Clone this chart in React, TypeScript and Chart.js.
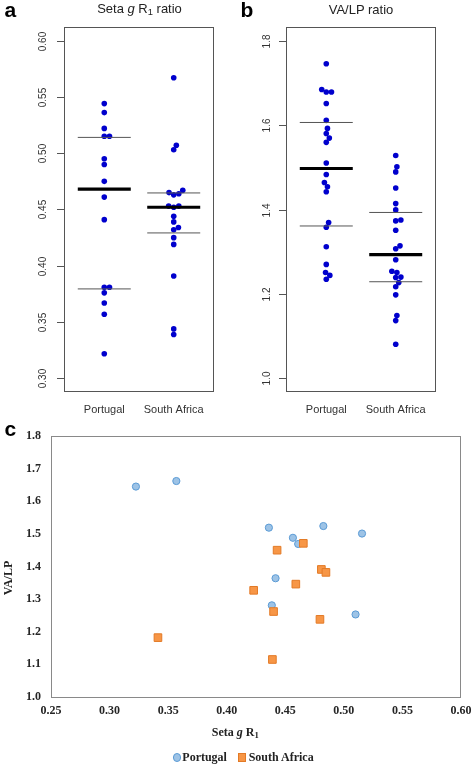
import React, { useEffect, useRef } from 'react';
import { Chart, registerables } from 'chart.js';

Chart.register(...registerables);

// ---------- data ----------
const groups = ['Portugal', 'South Africa'];
const groupLimits = [0.5, 2.5];

// panel a: Seta g R1 ratio
const setaPortugal = [0.544, 0.536, 0.522, 0.515, 0.515, 0.495, 0.49, 0.475, 0.461, 0.441, 0.381, 0.381, 0.376, 0.367, 0.357, 0.322];
const setaSouthAfrica = [0.567, 0.507, 0.503, 0.467, 0.465, 0.464, 0.463, 0.453, 0.453, 0.452, 0.444, 0.439, 0.434, 0.432, 0.425, 0.419, 0.391, 0.344, 0.339];
const setaMedian = [0.468, 0.452];
const setaUpperQ = [0.514, 0.4647];
const setaLowerQ = [0.3795, 0.4292];
const setaLimits = [0.3, 0.6];
const setaTicks = [0.3, 0.35, 0.4, 0.45, 0.5, 0.55, 0.6];

// panel b: VA/LP ratio
const vaPortugal = [1.745, 1.684, 1.678, 1.678, 1.651, 1.611, 1.592, 1.58, 1.569, 1.559, 1.51, 1.483, 1.464, 1.454, 1.442, 1.369, 1.358, 1.312, 1.27, 1.251, 1.244, 1.235];
const vaSouthAfrica = [1.528, 1.501, 1.489, 1.451, 1.414, 1.399, 1.375, 1.373, 1.351, 1.314, 1.307, 1.281, 1.254, 1.251, 1.24, 1.239, 1.227, 1.217, 1.198, 1.149, 1.137, 1.081];
const vaMedian = [1.497, 1.293];
const vaUpperQ = [1.606, 1.393];
const vaLowerQ = [1.361, 1.229];
const vaLimits = [1.0, 1.8];
const vaTicks = [1.0, 1.2, 1.4, 1.6, 1.8];

// panel c: scatter
const scatterPortugalX = [0.3225, 0.357, 0.436, 0.4825, 0.5155, 0.4565, 0.461, 0.4417, 0.4385, 0.51];
const scatterPortugalY = [1.645, 1.662, 1.519, 1.524, 1.501, 1.488, 1.469, 1.364, 1.281, 1.253];
const scatterSouthAfricaX = [0.4654, 0.443, 0.4808, 0.4847, 0.459, 0.423, 0.44, 0.4796, 0.3413, 0.439];
const scatterSouthAfricaY = [1.471, 1.45, 1.391, 1.382, 1.346, 1.327, 1.262, 1.238, 1.182, 1.115];
const scatterXTicks = [0.25, 0.3, 0.35, 0.4, 0.45, 0.5, 0.55, 0.6];
const scatterYTicks = [1.0, 1.1, 1.2, 1.3, 1.4, 1.5, 1.6, 1.7, 1.8];

// ---------- styling ----------
const FONT_SANS = "'Liberation Sans', Arial, Helvetica, sans-serif";
const FONT_SERIF = "'Liberation Serif', 'Times New Roman', Times, serif";
const DOT_COLOR = '#0000CD';
const PT_FILL = '#9DC3E6';
const PT_BORDER = '#5B9BD5';
const SA_FILL = '#F79646';
const SA_BORDER = '#E37A26';

function expand(r: number[], f = 0.04) {
  const d = (r[1] - r[0]) * f;
  return [r[0] - d, r[1] + d];
}

// simple beeswarm layout (pixel space), returns x offsets in data units
function swarmOffsets(values: number[], pxPerY: number, pxPerX: number, spacing: number): number[] {
  const order = values.map((_, i) => i).sort((a, b) => values[a] - values[b]);
  const placed: { x: number; y: number }[] = [];
  const res = new Array(values.length).fill(0);
  const d2 = spacing * spacing;
  for (const i of order) {
    const y = values[i] * pxPerY;
    const cands = [0];
    for (const p of placed) {
      const dy = Math.abs(p.y - y);
      if (dy < spacing) {
        const dx = Math.sqrt(d2 - dy * dy) + 0.01;
        cands.push(p.x + dx, p.x - dx);
      }
    }
    cands.sort((a, b) => Math.abs(a) - Math.abs(b) || b - a);
    let chosen = 0;
    for (const c of cands) {
      if (placed.every((p) => (p.x - c) ** 2 + (p.y - y) ** 2 >= d2 - 0.05)) {
        chosen = c;
        break;
      }
    }
    placed.push({ x: chosen, y });
    res[i] = chosen / pxPerX;
  }
  return res;
}

type Area = { left: number; top: number; right: number; bottom: number };
type DotCfg = {
  series: number[][];
  median: number[];
  upper: number[];
  lower: number[];
  limits: number[];
  ticks: number[];
  decimals: number;
  width: number;
  height: number;
  area: Area;
  labelOffset: number;
};

function zeroPad(s: any) {
  s.paddingLeft = 0;
  s.paddingRight = 0;
  s.paddingTop = 0;
  s.paddingBottom = 0;
}

function makeDotChart(canvas: HTMLCanvasElement, cfg: DotCfg) {
  const [xMin, xMax] = expand(groupLimits);
  const [yMin, yMax] = expand(cfg.limits);
  const a = cfg.area;
  const pxX = (a.right - a.left) / (xMax - xMin);
  const pxY = (a.bottom - a.top) / (yMax - yMin);
  const points = cfg.series.flatMap((vals, g) => {
    const off = swarmOffsets(vals, pxY, pxX, 5.2);
    return vals.map((v, i) => ({ x: g + 1 + off[i], y: v }));
  });
  const hw = 26.5 / pxX;
  const seg = (vals: number[], width: number, color: string) =>
    groups.map((_, g) => ({
      type: 'line' as const,
      data: [
        { x: g + 1 - hw, y: vals[g] },
        { x: g + 1 + hw, y: vals[g] },
      ],
      borderColor: color,
      borderWidth: width,
      pointRadius: 0,
      showLine: true,
      fill: false,
    }));

  const framePlugin = {
    id: 'frame',
    afterDraw(chart: any) {
      const { ctx, chartArea: ca, scales } = chart;
      ctx.save();
      ctx.strokeStyle = '#555';
      ctx.lineWidth = 1;
      ctx.strokeRect(ca.left + 0.5, ca.top + 0.5, ca.right - ca.left - 1, ca.bottom - ca.top - 1);
      ctx.fillStyle = '#333';
      ctx.font = `10px ${FONT_SANS}`;
      ctx.textAlign = 'center';
      ctx.textBaseline = 'middle';
      for (const t of cfg.ticks) {
        const y = Math.round(scales.y.getPixelForValue(t)) + 0.5;
        ctx.beginPath();
        ctx.moveTo(ca.left - 7, y);
        ctx.lineTo(ca.left, y);
        ctx.stroke();
        ctx.save();
        ctx.translate(ca.left - cfg.labelOffset, y);
        ctx.rotate(-Math.PI / 2);
        ctx.fillText(t.toFixed(cfg.decimals), 0, 0);
        ctx.restore();
      }
      ctx.restore();
    },
  };

  return new Chart(canvas, {
    type: 'scatter',
    data: {
      datasets: [
        ...seg(cfg.median, 3.2, '#000'),
        ...seg(cfg.upper, 1, '#555'),
        ...seg(cfg.lower, 1, '#555'),
        {
          type: 'scatter' as const,
          data: points,
          pointRadius: 2.8,
          pointBackgroundColor: DOT_COLOR,
          pointBorderWidth: 0,
          backgroundColor: DOT_COLOR,
        },
      ] as any,
    },
    options: {
      animation: false,
      responsive: false,
      events: [],
      layout: { padding: { top: a.top, left: 0, right: cfg.width - a.right, bottom: 0 } },
      plugins: { legend: { display: false }, tooltip: { enabled: false } },
      scales: {
        x: {
          type: 'linear',
          min: xMin,
          max: xMax,
          grid: { display: false, drawTicks: false },
          border: { display: false },
          afterBuildTicks: (s: any) => {
            s.ticks = groups.map((_, g) => ({ value: g + 1 }));
          },
          afterFit: (s: any) => {
            s.height = cfg.height - a.bottom;
            zeroPad(s);
          },
          ticks: {
            autoSkip: false,
            maxRotation: 0,
            padding: 11,
            color: '#333',
            font: { family: FONT_SANS, size: 11 },
            callback: (v: any) => groups[Math.round(Number(v)) - 1] ?? '',
          },
        },
        y: {
          type: 'linear',
          min: yMin,
          max: yMax,
          grid: { display: false, drawTicks: false },
          border: { display: false },
          ticks: { display: false },
          afterFit: (s: any) => {
            s.width = a.left;
            zeroPad(s);
          },
        },
      },
    } as any,
    plugins: [framePlugin],
  });
}

function makeScatterChart(canvas: HTMLCanvasElement) {
  const W = 472;
  const H = 346;
  const area = { left: 51, top: 16, right: 461, bottom: 277 };
  const xAxisH = 30;
  const framePlugin = {
    id: 'frameC',
    afterDraw(chart: any) {
      const { ctx, chartArea: ca } = chart;
      ctx.save();
      ctx.strokeStyle = '#898989';
      ctx.lineWidth = 1;
      ctx.strokeRect(Math.round(ca.left) + 0.5, Math.round(ca.top) + 0.5, Math.round(ca.right - ca.left) - 1, Math.round(ca.bottom - ca.top));
      ctx.restore();
    },
  };
  const tickFont = { family: FONT_SERIF, size: 12, weight: 'bold' as const };
  return new Chart(canvas, {
    type: 'scatter',
    data: {
      datasets: [
        {
          label: groups[0],
          data: scatterPortugalX.map((x, i) => ({ x, y: scatterPortugalY[i] })),
          pointStyle: 'circle',
          pointRadius: 3.6,
          pointBackgroundColor: PT_FILL,
          pointBorderColor: PT_BORDER,
          pointBorderWidth: 1,
          backgroundColor: PT_FILL,
          borderColor: PT_BORDER,
          order: 2,
        },
        {
          label: groups[1],
          data: scatterSouthAfricaX.map((x, i) => ({ x, y: scatterSouthAfricaY[i] })),
          pointStyle: 'rect',
          pointRadius: 5.4,
          pointBackgroundColor: SA_FILL,
          pointBorderColor: SA_BORDER,
          pointBorderWidth: 1,
          backgroundColor: SA_FILL,
          borderColor: SA_BORDER,
          order: 1,
        },
      ],
    },
    options: {
      animation: false,
      responsive: false,
      events: [],
      layout: { padding: { top: area.top, left: 0, right: W - area.right, bottom: H - area.bottom - xAxisH } },
      plugins: { legend: { display: false }, tooltip: { enabled: false } },
      scales: {
        x: {
          type: 'linear',
          min: scatterXTicks[0],
          max: scatterXTicks[scatterXTicks.length - 1],
          grid: { display: false, drawTicks: false },
          border: { display: false },
          afterBuildTicks: (s: any) => {
            s.ticks = scatterXTicks.map((v) => ({ value: v }));
          },
          afterFit: (s: any) => {
            s.height = xAxisH;
            zeroPad(s);
          },
          ticks: {
            autoSkip: false,
            maxRotation: 0,
            padding: 7,
            color: '#262626',
            font: tickFont,
            callback: (v: any) => Number(v).toFixed(2),
          },
        },
        y: {
          type: 'linear',
          min: scatterYTicks[0],
          max: scatterYTicks[scatterYTicks.length - 1],
          grid: { display: false, drawTicks: false },
          border: { display: false },
          afterBuildTicks: (s: any) => {
            s.ticks = scatterYTicks.map((v) => ({ value: v }));
          },
          afterFit: (s: any) => {
            s.width = area.left;
            zeroPad(s);
          },
          ticks: {
            autoSkip: false,
            padding: 10,
            color: '#262626',
            font: tickFont,
            callback: (v: any) => Number(v).toFixed(1),
          },
        },
      },
    } as any,
    plugins: [framePlugin],
  });
}

const panelA: DotCfg = {
  series: [setaPortugal, setaSouthAfrica],
  median: setaMedian,
  upper: setaUpperQ,
  lower: setaLowerQ,
  limits: setaLimits,
  ticks: setaTicks,
  decimals: 2,
  width: 236,
  height: 420,
  area: { left: 64, top: 27, right: 214, bottom: 392 },
  labelOffset: 20.3,
};

const panelB: DotCfg = {
  series: [vaPortugal, vaSouthAfrica],
  median: vaMedian,
  upper: vaUpperQ,
  lower: vaLowerQ,
  limits: vaLimits,
  ticks: vaTicks,
  decimals: 1,
  width: 236,
  height: 420,
  area: { left: 50, top: 27, right: 200, bottom: 392 },
  labelOffset: 18.3,
};

const centered = (x: number, y: number, extra: React.CSSProperties = {}): React.CSSProperties => ({
  position: 'absolute',
  left: x,
  top: y,
  transform: 'translate(-50%, -50%)',
  whiteSpace: 'nowrap',
  lineHeight: 1,
  ...extra,
});

const Sub = ({ children }: { children: React.ReactNode }) => (
  <span style={{ fontSize: '0.72em', position: 'relative', top: '0.28em' }}>{children}</span>
);

export default function App() {
  const refA = useRef<HTMLCanvasElement>(null);
  const refB = useRef<HTMLCanvasElement>(null);
  const refC = useRef<HTMLCanvasElement>(null);

  useEffect(() => {
    const charts = [
      makeDotChart(refA.current!, panelA),
      makeDotChart(refB.current!, panelB),
      makeScatterChart(refC.current!),
    ];
    return () => charts.forEach((c) => c.destroy());
  }, []);

  const letter: React.CSSProperties = {
    position: 'absolute',
    fontFamily: FONT_SANS,
    fontWeight: 'bold',
    fontSize: 21,
    lineHeight: 1,
    color: '#000',
  };
  const sansTitle: React.CSSProperties = { fontFamily: FONT_SANS, fontSize: 13, color: '#222' };
  const serifBold: React.CSSProperties = { fontFamily: FONT_SERIF, fontSize: 12, fontWeight: 'bold', color: '#222' };

  return (
    <div style={{ position: 'absolute', left: 0, top: 0, width: 472, height: 766, background: '#fff', overflow: 'hidden' }}>
      <canvas ref={refA} width={236} height={420} style={{ position: 'absolute', left: 0, top: 0, width: 236, height: 420 }} />
      <canvas ref={refB} width={236} height={420} style={{ position: 'absolute', left: 236, top: 0, width: 236, height: 420 }} />
      <canvas ref={refC} width={472} height={346} style={{ position: 'absolute', left: 0, top: 420, width: 472, height: 346 }} />

      <div style={{ ...letter, left: 4.5, top: -1.1 }}>a</div>
      <div style={{ ...letter, left: 240.5, top: -1.1 }}>b</div>
      <div style={{ ...letter, left: 4.5, top: 418.2 }}>c</div>

      <div style={centered(139.5, 8.5, sansTitle)}>
        Seta <i>g</i> R<Sub>1</Sub> ratio
      </div>
      <div style={centered(361, 8.7, sansTitle)}>VA/LP ratio</div>

      <div style={centered(235.3, 732, serifBold)}>
        Seta <i>g</i> R<Sub>1</Sub>
      </div>
      <div style={centered(8, 578, { ...serifBold, transform: 'translate(-50%, -50%) rotate(-90deg)' })}>VA/LP</div>

      <div
        style={{
          position: 'absolute',
          left: 172.5,
          top: 757.4,
          transform: 'translateY(-50%)',
          display: 'flex',
          alignItems: 'center',
          lineHeight: 1,
          whiteSpace: 'nowrap',
          ...serifBold,
        }}
      >
        <span
          style={{
            display: 'inline-block',
            width: 6.3,
            height: 6.3,
            borderRadius: '50%',
            background: PT_FILL,
            border: `1px solid ${PT_BORDER}`,
            marginRight: 1.5,
          }}
        />
        <span style={{ marginRight: 11 }}>{groups[0]}</span>
        <span
          style={{
            display: 'inline-block',
            width: 6.3,
            height: 6.3,
            background: SA_FILL,
            border: `1px solid ${SA_BORDER}`,
            marginRight: 2.4,
          }}
        />
        <span>{groups[1]}</span>
      </div>
    </div>
  );
}
